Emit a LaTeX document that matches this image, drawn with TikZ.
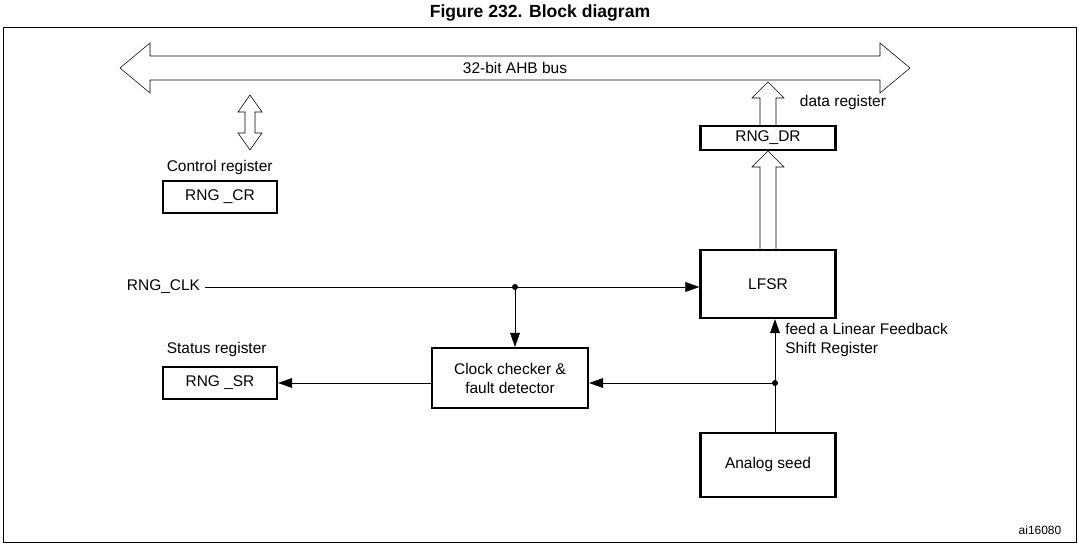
\documentclass[tikz,border=0pt]{standalone}
\usepackage{fontspec}
\setmainfont{Liberation Sans}
\usetikzlibrary{arrows.meta}
\begin{document}
\begin{tikzpicture}[x=0.025cm,y=-0.025cm,
  blk/.style={draw,line width=1.6pt,minimum width=3.375cm,align=center,font=\fontsize{11}{13.5}\selectfont},
  lbl/.style={font=\fontsize{11}{13.5}\selectfont,align=left},
  sig/.style={-{Triangle[length=10pt,width=7pt]}},
  hollow/.style={draw,thin,fill=white}]

\useasboundingbox (0,0) rectangle (1079,544);

%title and frame
\node[font=\bfseries\fontsize{12.5}{15}\selectfont] (title) at (540,13) {Figure 232. Block diagram};
\draw (3,27) rectangle (1076,542);

%bus
\draw[hollow] (120,68) -- (150,43) -- (150,56) -- (880,56) -- (880,43) -- (910,68)
  -- (880,93) -- (880,80) -- (150,80) -- (150,93) -- cycle;
\node[lbl] (bus) at (515,68) {32-bit AHB bus};

%blocks
\node[blk,minimum width=2.85cm,minimum height=0.8cm] (cr) at (220,197) {RNG \_CR};
\node[blk,minimum height=0.6cm] (dr) at (768,138) {RNG\_DR};
\node[blk,minimum height=1.7cm] (lfsr) at (768,284) {LFSR};
\node[blk,minimum width=2.85cm,minimum height=0.8cm] (sr) at (220,383) {RNG \_SR};
\node[blk,minimum width=3.9cm,minimum height=1.5cm] (chk) at (510,378) {Clock checker \&\\fault detector};
\node[blk,minimum height=1.6cm] (seed) at (768,465) {Analog seed};

%labels
\node[lbl,anchor=south west] (crl) at (cr.north west) {Control register};
\node[lbl,anchor=south west] (srl) at ([yshift=3]sr.north west) {Status register};
\node[lbl,anchor=west] (drl) at (795,103) {data register};
\node[lbl,anchor=east] (clk) at (205,287) {RNG\_CLK};
\node[lbl,anchor=north west,inner sep=0pt] (feed) at (785,323) {feed a Linear Feedback\\Shift Register};
\node[font=\fontsize{8.5}{10}\selectfont] (ref) at (1040,530) {ai16080};

%hollow arrows
\draw[hollow] (245,112) -- (238,112) -- (250,95) -- (262,112) -- (255,112) -- (255,133)
  -- (262,133) -- (250,150) -- (238,133) -- (245,133) -- cycle;
\draw[hollow] (760,125) -- (760,98) -- (752,98) -- (768,82) -- (784,98) -- (776,98) -- (776,125);
\draw[hollow] (760,249) -- (760,167) -- (752,167) -- (768,151) -- (784,167) -- (776,167) -- (776,249);

%signals
\coordinate (tap) at (515,287);
\coordinate (seedtap) at (775,383);
\draw[sig] (clk) -- (lfsr.west|-clk);
\fill (tap) circle (3);
\draw[sig] (tap) -- (tap|-chk.north);
\draw[sig] (seedtap|-seed.north) -- (seedtap|-lfsr.south);
\fill (seedtap) circle (3);
\draw[sig] (seedtap) -- (chk.east|-seedtap);
\draw[sig] (chk.west|-sr) -- (sr.east);
\end{tikzpicture}
\end{document}
